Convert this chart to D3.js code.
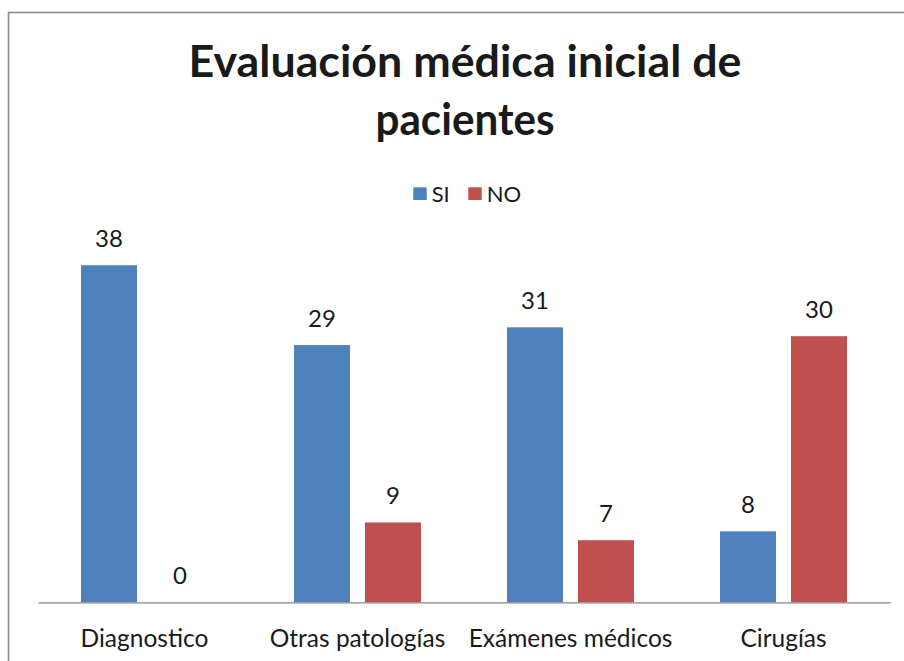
<!DOCTYPE html>
<html>
<head>
<meta charset="utf-8">
<script src="https://cdn.jsdelivr.net/npm/d3@7"></script>
<style>
  html, body { margin: 0; padding: 0; background: #fff; }
  text { font-family: Lato, "Open Sans", sans-serif; fill: #1a1a1a; }
</style>
</head>
<body>
<main></main>
<script>
var titleLines = ['Evaluación médica inicial de', 'pacientes'];
var categories = ['Diagnostico', 'Otras patologías', 'Exámenes médicos', 'Cirugías'];
var seriesNames = ['SI', 'NO'];
var siValues = [38, 29, 31, 8];
var noValues = [0, 9, 7, 30];
var seriesColors = ['#4f81bd', '#c0504d'];

var width = 904, height = 661;
var baseY = 602.3;

var svg = d3.select('main').append('svg')
  .attr('width', width)
  .attr('height', height);

// chart frame (runs past the right and bottom edges)
svg.append('rect')
  .attr('x', 8.5).attr('y', 12.5)
  .attr('width', 1000).attr('height', 1000)
  .attr('fill', 'none')
  .attr('stroke', '#8a8a8a')
  .attr('stroke-width', 1.6);

// title
svg.selectAll('text.title')
  .data(titleLines)
  .enter().append('text')
  .attr('class', 'title')
  .attr('x', 465)
  .attr('y', function(d, i) { return 77 + i * 58; })
  .attr('text-anchor', 'middle')
  .style('font-weight', 'bold')
  .style('font-size', '44px')
  .attr('textLength', function(d, i) { return i == 0 ? 553 : 179; })
  .attr('lengthAdjust', 'spacingAndGlyphs')
  .text(function(d) { return d; });

// scales
var x0 = d3.scaleBand()
  .domain(categories)
  .range([38, 890]);

var x1 = d3.scaleBand()
  .domain(seriesNames)
  .range([0, x0.bandwidth()])
  .paddingInner(0.211)
  .paddingOuter(0.606);

var y = d3.scaleLinear()
  .domain([0, 40])
  .range([baseY, baseY - 40 * 8.87]);

var rows = categories.map(function(c, i) {
  return {
    category: c,
    values: [
      {series: 'SI', value: siValues[i], color: seriesColors[0]},
      {series: 'NO', value: noValues[i], color: seriesColors[1]}
    ]
  };
});

var groups = svg.selectAll('g.cat')
  .data(rows)
  .enter().append('g')
  .attr('class', 'cat')
  .attr('transform', function(d) { return 'translate(' + x0(d.category) + ',0)'; });

groups.selectAll('rect')
  .data(function(d) { return d.values; })
  .enter().append('rect')
  .attr('x', function(d) { return x1(d.series); })
  .attr('y', function(d) { return y(d.value); })
  .attr('width', x1.bandwidth())
  .attr('height', function(d) { return baseY - y(d.value); })
  .attr('fill', function(d) { return d.color; });

groups.selectAll('text.val')
  .data(function(d) { return d.values; })
  .enter().append('text')
  .attr('class', 'val')
  .attr('x', function(d) { return x1(d.series) + x1.bandwidth() / 2; })
  .attr('y', function(d) { return y(d.value) - 18.5; })
  .attr('text-anchor', 'middle')
  .style('font-size', '24px')
  .text(function(d) { return d.value; });

// category axis
var xAxis = svg.append('g')
  .attr('transform', 'translate(0,' + baseY + ')')
  .call(d3.axisBottom(x0).tickSize(0).tickPadding(0));
xAxis.select('.domain').attr('stroke', '#868686').attr('stroke-width', 1.3);
xAxis.selectAll('.tick text')
  .attr('y', 44.3)
  .attr('dy', null)
  .style('font-family', 'Lato, "Open Sans", sans-serif')
  .style('font-size', '24.5px')
  .attr('fill', '#1a1a1a');

// legend
var legend = svg.append('g').attr('class', 'legend');
var lx = 413.3;
seriesNames.forEach(function(name, i) {
  legend.append('rect')
    .attr('x', lx).attr('y', 187.3)
    .attr('width', 13.4).attr('height', 12.7)
    .attr('fill', seriesColors[i]);
  var t = legend.append('text')
    .attr('x', lx + 18.4)
    .attr('y', 202.3)
    .style('font-size', '22px')
    .text(name);
  lx = lx + 18.4 + t.node().getComputedTextLength() + 18.5;
});
</script>
</body>
</html>
